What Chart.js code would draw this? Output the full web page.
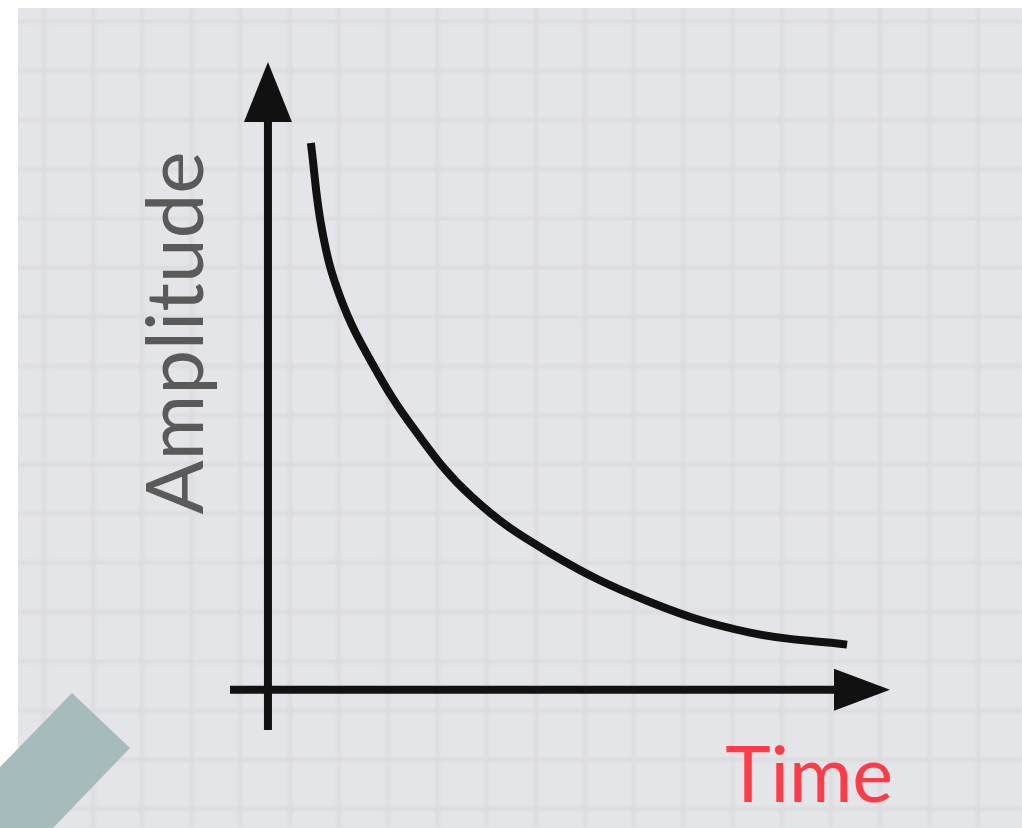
<!DOCTYPE html>
<html>
<head>
<meta charset="utf-8">
<script src="https://cdn.jsdelivr.net/npm/chart.js@4/dist/chart.umd.min.js"></script>
<style>
  html, body { margin: 0; padding: 0; background: #ffffff; }
  canvas { display: block; }
</style>
</head>
<body>
<canvas id="decay-chart" width="1022" height="828"></canvas>
<script>
// decay curve samples (time, amplitude)
const timeValues = [0.69, 0.87, 1.16, 1.67, 2.36, 3.28, 4.53, 6.14, 7.75, 9.31];
const amplitudeValues = [8.71, 7.32, 6.26, 5.21, 4.14, 3.07, 2.18, 1.40, 0.91, 0.72];

const xLabel = "Time";
const yLabel = "Amplitude";

// axis extents: arrows end at max, lines start a little below zero
const xRange = [-0.61, 10];
const yRange = [-0.64, 10];

const points = timeValues.map((t, i) => ({ x: t, y: amplitudeValues[i] }));

// graph paper behind everything
const paperPlugin = {
  id: "paper",
  beforeDraw(chart) {
    const ctx = chart.ctx;
    const W = chart.width, H = chart.height;
    ctx.save();
    ctx.fillStyle = "#ffffff";
    ctx.fillRect(0, 0, W, H);
    ctx.fillStyle = "#e4e5e8";
    ctx.fillRect(18, 8, W - 18, H - 8);

    ctx.save();
    ctx.beginPath();
    ctx.rect(18, 8, W - 18, H - 8);
    ctx.clip();
    ctx.filter = "blur(1.5px)";
    ctx.strokeStyle = "#d9dadd";
    ctx.lineWidth = 3;
    const step = 49.2;
    for (let x = 93 - step; x < W; x += step) {
      ctx.beginPath();
      ctx.moveTo(x, 0);
      ctx.lineTo(x, H);
      ctx.stroke();
    }
    for (let y = 120 - 2 * step; y < H; y += step) {
      ctx.beginPath();
      ctx.moveTo(0, y);
      ctx.lineTo(W, y);
      ctx.stroke();
    }
    ctx.restore();

    // teal corner tab
    ctx.fillStyle = "#a6bcbc";
    ctx.beginPath();
    ctx.moveTo(72, 693);
    ctx.lineTo(130, 748);
    ctx.lineTo(53, 828);
    ctx.lineTo(0, 828);
    ctx.lineTo(0, 767);
    ctx.closePath();
    ctx.fill();
    ctx.restore();
  }
};

// arrowed axes and the two labels
const axesPlugin = {
  id: "arrowAxes",
  beforeDatasetsDraw(chart) {
    const ctx = chart.ctx;
    const xs = chart.scales.x, ys = chart.scales.y;
    const x0 = xs.getPixelForValue(0);
    const y0 = ys.getPixelForValue(0);
    const xMin = xs.getPixelForValue(xRange[0]);
    const xMax = xs.getPixelForValue(xRange[1]);
    const yMin = ys.getPixelForValue(yRange[0]);
    const yMax = ys.getPixelForValue(yRange[1]);

    ctx.save();
    ctx.strokeStyle = "#111111";
    ctx.fillStyle = "#111111";
    ctx.lineWidth = 8;
    ctx.lineCap = "butt";

    // vertical axis
    ctx.beginPath();
    ctx.moveTo(x0, yMin);
    ctx.lineTo(x0, yMax + 56);
    ctx.stroke();
    ctx.beginPath();
    ctx.moveTo(x0, yMax);
    ctx.lineTo(x0 + 24, yMax + 60);
    ctx.lineTo(x0 - 24, yMax + 60);
    ctx.closePath();
    ctx.fill();

    // horizontal axis
    ctx.beginPath();
    ctx.moveTo(xMin, y0);
    ctx.lineTo(xMax - 52, y0);
    ctx.stroke();
    ctx.beginPath();
    ctx.moveTo(xMax, y0);
    ctx.lineTo(xMax - 56, y0 - 21);
    ctx.lineTo(xMax - 56, y0 + 21);
    ctx.closePath();
    ctx.fill();

    // labels
    ctx.textBaseline = "alphabetic";
    ctx.font = "400 77px Lato, 'Noto Sans', sans-serif";
    ctx.fillStyle = "#ff3b47";
    ctx.textAlign = "right";
    ctx.fillText(xLabel, 893, 802);

    ctx.font = "400 80px Lato, 'Noto Sans', sans-serif";
    ctx.translate(203, 333);
    ctx.rotate(-Math.PI / 2);
    ctx.fillStyle = "#5a5a5a";
    ctx.textAlign = "center";
    ctx.fillText(yLabel, 0, 0);
    ctx.restore();
  }
};

new Chart(document.getElementById("decay-chart"), {
  type: "line",
  data: {
    datasets: [{
      data: points,
      borderColor: "#111111",
      borderWidth: 8,
      borderCapStyle: "butt",
      pointRadius: 0,
      tension: 0.4,
      fill: false,
      clip: false
    }]
  },
  options: {
    responsive: false,
    animation: false,
    layout: { padding: { left: 230, right: 132, top: 62, bottom: 98 } },
    plugins: { legend: { display: false }, tooltip: { enabled: false } },
    scales: {
      x: { type: "linear", min: xRange[0], max: xRange[1], display: false },
      y: { type: "linear", min: yRange[0], max: yRange[1], display: false }
    }
  },
  plugins: [paperPlugin, axesPlugin]
});
</script>
</body>
</html>
